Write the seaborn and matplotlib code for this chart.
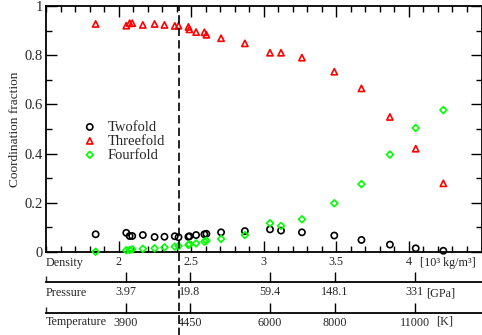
import seaborn as sns
import matplotlib.pyplot as plt

# density in 10^3 kg/m^3
density = [1.842, 2.053, 2.076, 2.094, 2.167, 2.248, 2.316, 2.387, 2.413, 2.481,
           2.488, 2.534, 2.591, 2.605, 2.706, 2.870, 3.043, 3.119, 3.263, 3.486,
           3.673, 3.869, 4.047, 4.237]
twofold = [0.072, 0.078, 0.065, 0.065, 0.069, 0.061, 0.062, 0.064, 0.060, 0.062,
           0.064, 0.069, 0.072, 0.074, 0.080, 0.085, 0.092, 0.087, 0.080, 0.067,
           0.049, 0.030, 0.015, 0.005]
threefold = [0.927, 0.920, 0.930, 0.930, 0.923, 0.927, 0.923, 0.919, 0.920, 0.915,
             0.905, 0.894, 0.893, 0.883, 0.869, 0.848, 0.810, 0.810, 0.790, 0.733,
             0.665, 0.549, 0.420, 0.279]
fourfold = [0.001, 0.007, 0.008, 0.011, 0.013, 0.015, 0.019, 0.022, 0.024, 0.029,
            0.031, 0.035, 0.042, 0.046, 0.053, 0.069, 0.117, 0.106, 0.133, 0.198,
            0.276, 0.396, 0.504, 0.577]

transition_density = 2.413

# extra axes: pressure and temperature at given densities
extra_pos = [2.05, 2.49, 3.04, 3.49, 4.04]
pressure_labels = ['3.97', '19.8', '59.4', '148.1', '331']
temperature_labels = ['3900', '4450', '6000', '8000', '11000']

sns.set_style('ticks')
plt.rcParams['font.family'] = ['Liberation Serif', 'DejaVu Serif']

W, H = 482, 335
fig = plt.figure(figsize=(W / 100, H / 100), dpi=100)
ax = fig.add_axes([46 / W, 1 - 252 / H, 435.5 / W, 246 / H])

series = [(twofold, 'o', 'black', 'Twofold'),
          (threefold, '^', '#ff0000', 'Threefold'),
          (fourfold, 'D', '#00ff00', 'Fourfold')]
for vals, mk, col, lab in series:
    sz = 12 if mk == 'D' else 20
    sns.scatterplot(x=density, y=vals, marker=mk, s=sz, color=col,
                    facecolor='none', edgecolor=col, linewidth=1.2,
                    label=lab, ax=ax, clip_on=False, zorder=3)

ax.axvline(transition_density, ymin=-0.345, ymax=1, clip_on=False,
           color='black', lw=1.2, ls=(0, (5, 2.5)), zorder=4)

ax.set_xlim(1.5, 4.5)
ax.set_ylim(0, 1)
ax.set_xticks([2, 2.5, 3, 3.5, 4], ['2', '2.5', '3', '3.5', '4'])
ax.set_xticks([1.5 + 0.1 * i for i in range(31)], minor=True)
ax.set_yticks([0, 0.2, 0.4, 0.6, 0.8, 1], ['0', '0.2', '0.4', '0.6', '0.8', '1'])
ax.set_yticks([0.1, 0.3, 0.5, 0.7, 0.9], minor=True)
ax.tick_params(which='both', direction='in', top=True, right=True,
               color='black', width=1)
ax.tick_params(which='major', length=8)
ax.tick_params(which='minor', length=4)
ax.tick_params(axis='x', labelsize=8.7, pad=3)
ax.tick_params(axis='y', labelsize=10.5, pad=2)
for sp in ax.spines.values():
    sp.set_linewidth(1.3)
    sp.set_color('black')

ax.set_ylabel('Coordination fraction', fontsize=9.6, labelpad=3)

for offset, labels in [(-30, pressure_labels), (-61, temperature_labels)]:
    sec = ax.secondary_xaxis(offset / 246)
    sec.set_xticks(extra_pos, labels)
    sec.set_xticks([1.5], minor=True)
    sec.tick_params(which='major', direction='in', length=7, width=1,
                    labelsize=8.7, pad=3, color='black')
    sec.tick_params(which='minor', direction='in', length=4, width=1)
    for sp in sec.spines.values():
        sp.set_linewidth(1.3)
        sp.set_color('black')

fs = 8.7
fig.text(46 / W, 1 - 263 / H, 'Density', fontsize=fs, va='center', ha='left')
fig.text(46 / W, 1 - 293 / H, 'Pressure', fontsize=fs, va='center', ha='left')
fig.text(46 / W, 1 - 322 / H, 'Temperature', fontsize=fs, va='center', ha='left')
fig.text(420 / W, 1 - 263 / H, '[10³ kg/m³]', fontsize=fs, va='center', ha='left')
fig.text(426 / W, 1 - 293 / H, '[GPa]', fontsize=fs, va='center', ha='left')
fig.text(436 / W, 1 - 322 / H, '[K]', fontsize=fs, va='center', ha='left')

ax.legend(loc='upper left', bbox_to_anchor=(0.062, 0.558), frameon=False,
          fontsize=10.5, handletextpad=0.45, labelspacing=0.05,
          borderaxespad=0, handlelength=1.5)

fig.savefig('out.png', dpi=100)
